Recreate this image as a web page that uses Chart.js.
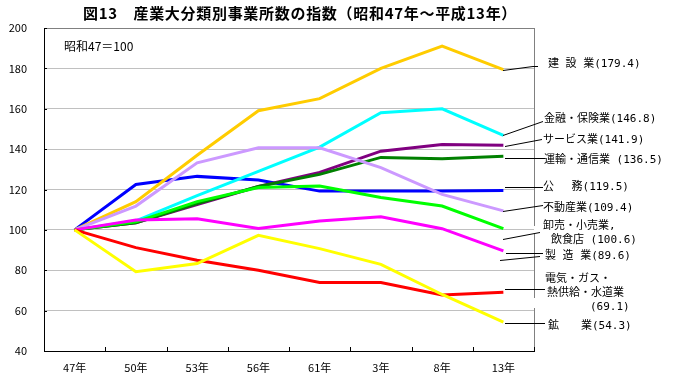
<!DOCTYPE html>
<html><head><meta charset="utf-8">
<script src="https://cdn.jsdelivr.net/npm/chart.js@4/dist/chart.umd.min.js"></script>
<style>html,body{margin:0;padding:0;background:#fff}#wrap{width:674px;height:383px}</style>
</head><body><div id="wrap"><canvas id="c" width="674" height="383"></canvas></div>
<script>
const categories = ['47年','50年','53年','56年','61年','3年','8年','13年'];
const yTicks = [40,60,80,100,120,140,160,180,200];
const construction = [100,114,137,159,165,180,191,179.4];
const finance      = [100,104.5,117,129,141,158,160,146.8];
const services     = [100,103.5,112.5,121.5,128.5,139,142.3,141.9];
const transport    = [100,103.5,113,121.5,127.5,135.9,135.2,136.5];
const government   = [100,122.5,126.5,124.7,119.2,119.2,119.2,119.5];
const realEstate   = [100,111.8,133.2,140.7,140.7,130.8,117.6,109.4];
const trade        = [100,104,114,121,121.7,116,111.8,100.6];
const manufacturing= [100,104.9,105.5,100.7,104.4,106.5,100.6,89.6];
const utilities    = [100,91.2,85,80,73.9,73.9,67.7,69.1];
const mining       = [100,79.3,83.3,97.3,90.7,82.9,68,54.3];

const JP = '"Noto Sans CJK JP", "Noto Sans", sans-serif';
const LBL = '11px "DejaVu Sans Mono", "Noto Sans CJK JP", sans-serif';
const f1 = v => v.toFixed(1);
const EN = '\u2002';

const series = [
  {data: mining, color:'#FFFF00'},
  {data: utilities, color:'#FF0000'},
  {data: manufacturing, color:'#FF00FF'},
  {data: trade, color:'#00FF00'},
  {data: realEstate, color:'#CC99FF'},
  {data: transport, color:'#008000'},
  {data: services, color:'#800080'},
  {data: finance, color:'#00FFFF'},
  {data: construction, color:'#FFCC00'},
  {data: government, color:'#0000FF'}
];

const rightLabels = [
  {lines:['建' + EN + '設' + EN + '業(' + f1(construction[7]) + ')'], xs:[548], ys:[64], lead:[[503,70,533,66],[533,66,538,66]]},
  {lines:['金融・保険業(' + f1(finance[7]) + ')'], xs:[544], ys:[119], lead:[[503,135,543,121]]},
  {lines:['サービス業(' + f1(services[7]) + ')'], xs:[543], ys:[140], lead:[[505,146,542,139]]},
  {lines:['運輸・通信業 (' + f1(transport[7]) + ')'], xs:[544], ys:[160], lead:[[505,158,545,158]]},
  {lines:['公　' + EN + '務(' + f1(government[7]) + ')'], xs:[543], ys:[187], lead:[[505,187,543,187]]},
  {lines:['不動産業(' + f1(realEstate[7]) + ')'], xs:[543], ys:[208], lead:[[503,211,543,205]]},
  {lines:['卸売・小売業,','飲食店 (' + f1(trade[7]) + ')'], xs:[543,551], ys:[226,240], lead:[[503,239,540,232]]},
  {lines:['製' + EN + '造' + EN + '業(' + f1(manufacturing[7]) + ')'], xs:[545], ys:[256], lead:[[506,253,543,253],[500,260,540,256]]},
  {lines:['電気・ガス・','熱供給・水道業','(' + f1(utilities[7]) + ')'], xs:[545,547,590], ys:[279,293,307], lead:[[505,289,545,289]]},
  {lines:['鉱　　業(' + f1(mining[7]) + ')'], xs:[548], ys:[326], lead:[[505,323,545,323]]}
];

const decor = {
  id:'decor',
  afterDraw(chart){
    const ctx = chart.ctx, a = chart.chartArea;
    const ys = chart.scales.y;
    ctx.save();
    ctx.strokeStyle = '#808080'; ctx.lineWidth = 1;
    ctx.beginPath();
    ctx.moveTo(a.left, a.top + 0.5); ctx.lineTo(a.right, a.top + 0.5);
    const rx = Math.round(a.right) + 0.5;
    ctx.moveTo(rx, a.top); ctx.lineTo(rx, 226);
    ctx.moveTo(rx, 234); ctx.lineTo(rx, 298);
    ctx.moveTo(rx, 308); ctx.lineTo(rx, a.bottom);
    ctx.stroke();
    ctx.strokeStyle = '#000';
    ctx.beginPath();
    const n = categories.length, w = (a.right - a.left) / n;
    for (let i = 1; i <= n; i++) {
      const x = Math.round(a.left + i * w) + 0.5;
      ctx.moveTo(x, a.bottom); ctx.lineTo(x, a.bottom - 4);
    }
    yTicks.forEach(v => {
      const y = Math.round(ys.getPixelForValue(v)) + 0.5;
      ctx.moveTo(a.left, y); ctx.lineTo(a.left + 3, y);
    });
    ctx.stroke();
    ctx.fillStyle = '#000';
    ctx.font = 'bold 15px ' + JP;
    ctx.letterSpacing = '0.7px';
    ctx.textAlign = 'center'; ctx.textBaseline = 'middle';
    ctx.fillText('図13　産業大分類別事業所数の指数（昭和47年～平成13年）', 300, 13);
    ctx.letterSpacing = '0px';
    ctx.font = '12px ' + JP;
    ctx.textAlign = 'left';
    ctx.fillText('昭和47＝100', 64, 46);
    ctx.font = LBL;
    ctx.lineWidth = 1; ctx.strokeStyle = '#000';
    rightLabels.forEach(l => {
      l.lines.forEach((t, i) => ctx.fillText(t, l.xs[i], l.ys[i]));
      ctx.beginPath();
      l.lead.forEach(s => { ctx.moveTo(s[0], s[1] + 0.5); ctx.lineTo(s[2], s[3] + 0.5); });
      ctx.stroke();
    });
    ctx.restore();
  }
};

new Chart(document.getElementById('c'), {
  type:'line',
  data:{
    labels: categories,
    datasets: series.map(s => ({
      data: s.data, borderColor: s.color, backgroundColor: s.color,
      borderWidth: 3, pointRadius: 0, tension: 0, fill: false
    }))
  },
  options:{
    responsive:false, animation:false,
    layout:{padding:{top:28,right:140,left:0,bottom:0}},
    plugins:{legend:{display:false}, tooltip:{enabled:false}, title:{display:false}},
    scales:{
      x:{
        offset:true,
        grid:{display:false, drawTicks:false},
        border:{display:true, color:'#000', width:1},
        ticks:{color:'#000', font:{family:JP, size:11}, padding:10, maxRotation:0, autoSkip:false},
        afterFit(s){ s.height = 32; }
      },
      y:{
        min:40, max:200,
        afterBuildTicks(s){ s.ticks = yTicks.map(v => ({value:v})); },
        grid:{drawTicks:false, color: c => (c.tick && (c.tick.value === 40 || c.tick.value === 200)) ? 'rgba(0,0,0,0)' : '#C0C0C0', lineWidth:1},
        border:{display:true, color:'#000', width:1},
        ticks:{color:'#000', font:{family:JP, size:11}, padding:17},
        afterFit(s){ s.width = 44; }
      }
    }
  },
  plugins:[decor]
});
</script>
</body></html>
